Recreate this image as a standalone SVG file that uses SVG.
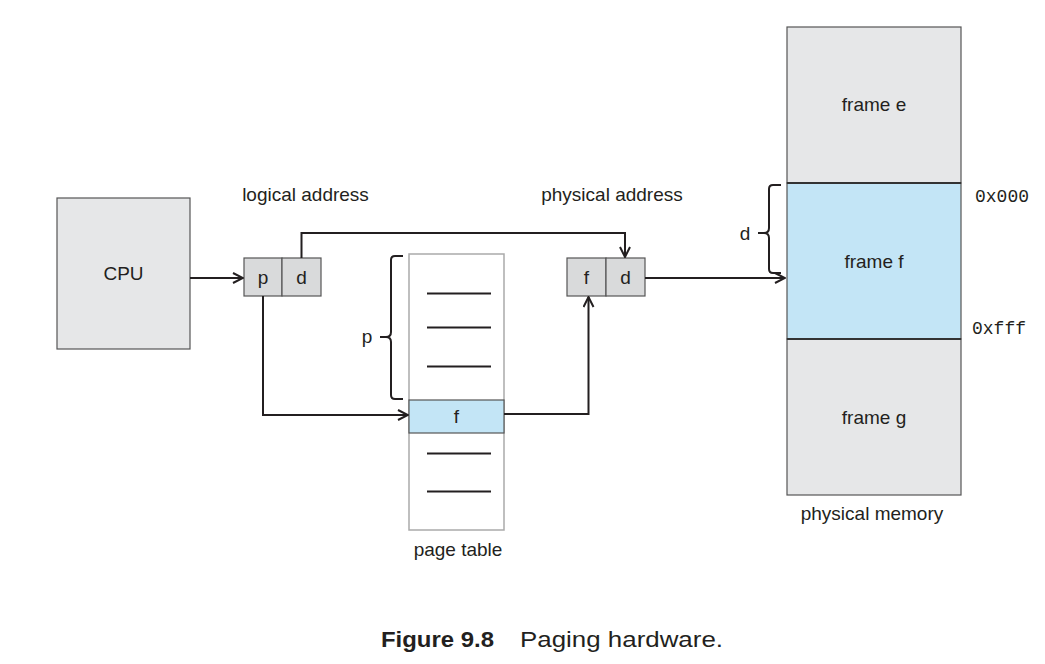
<svg xmlns="http://www.w3.org/2000/svg" width="1045" height="664" viewBox="0 0 1045 664">
<defs>
<marker id="ah" viewBox="0 0 12 12" refX="11" refY="6" markerWidth="12" markerHeight="12" markerUnits="userSpaceOnUse" orient="auto">
<path d="M1,1 L11,6 L1,11" fill="none" stroke="#231f20" stroke-width="2"/>
</marker>
<style>
.t{font-family:"Liberation Sans",Arial,sans-serif;font-size:19px;fill:#231f20}
.m{font-family:"Liberation Mono","Courier New",monospace;font-size:18px;fill:#231f20}
.c{stroke:#231f20;stroke-width:2;fill:none}
.g{fill:#e6e7e8;stroke:#555;stroke-width:1.2}
.g2{fill:#d9dadb;stroke:#555;stroke-width:1.2}
.b{fill:#c3e5f6}
.ln{stroke:#231f20;stroke-width:2}
</style>
</defs>
<rect width="1045" height="664" fill="#fff"/>

<g id="cpu">
<rect class="g" x="57" y="198" width="133" height="151"/>
<text class="t" x="123.5" y="280" text-anchor="middle">CPU</text>
</g>

<g id="logical-address">
<rect class="g2" x="244" y="258" width="38" height="38"/>
<rect class="g2" x="282" y="258" width="39" height="38"/>
<text class="t" x="263" y="284" text-anchor="middle">p</text>
<text class="t" x="301.5" y="284" text-anchor="middle">d</text>
<text class="t" x="305.5" y="201" text-anchor="middle">logical address</text>
</g>

<g id="page-table">
<rect x="409" y="254" width="95" height="276" fill="#fff" stroke="#aaa" stroke-width="1.5"/>
<rect class="b" x="409" y="400" width="95" height="33" stroke="#555" stroke-width="1.2"/>
<text class="t" x="456.5" y="423" text-anchor="middle">f</text>
<line class="ln" x1="427" y1="293.5" x2="491" y2="293.5"/>
<line class="ln" x1="427" y1="327.5" x2="491" y2="327.5"/>
<line class="ln" x1="427" y1="366.5" x2="491" y2="366.5"/>
<line class="ln" x1="427" y1="453.5" x2="491" y2="453.5"/>
<line class="ln" x1="427" y1="491.5" x2="491" y2="491.5"/>
<path class="c" d="M403,256 L395,256 Q391,256 391,260 L391,332 Q391,337 386,337 L380,337 M386,337 Q391,337 391,342 L391,395 Q391,399 395,399 L403,399"/>
<text class="t" x="367" y="343" text-anchor="middle">p</text>
<text class="t" x="458" y="556" text-anchor="middle">page table</text>
</g>

<g id="physical-address">
<rect class="g2" x="567" y="258" width="39" height="38"/>
<rect class="g2" x="606" y="258" width="39" height="38"/>
<text class="t" x="586.5" y="284" text-anchor="middle">f</text>
<text class="t" x="625.5" y="284" text-anchor="middle">d</text>
<text class="t" x="612" y="201" text-anchor="middle">physical address</text>
</g>

<g id="physical-memory">
<rect class="g" x="787" y="27" width="174" height="156"/>
<rect class="b" x="787" y="183" width="174" height="156" stroke="#555" stroke-width="1.2"/>
<rect class="g" x="787" y="339" width="174" height="156"/>
<line x1="787" y1="183" x2="961" y2="183" stroke="#333" stroke-width="2"/>
<line x1="787" y1="339" x2="961" y2="339" stroke="#333" stroke-width="2"/>
<text class="t" x="874" y="111" text-anchor="middle">frame e</text>
<text class="t" x="874" y="268" text-anchor="middle">frame f</text>
<text class="t" x="874" y="424" text-anchor="middle">frame g</text>
<text class="m" x="975" y="202">0x000</text>
<text class="m" x="972" y="334">0xfff</text>
<path class="c" d="M781,185 L773,185 Q769,185 769,189 L769,228 Q769,233 764,233 L758,233 M764,233 Q769,233 769,238 L769,269 Q769,273 773,273 L781,273"/>
<text class="t" x="745" y="240" text-anchor="middle">d</text>
<text class="t" x="872" y="520" text-anchor="middle">physical memory</text>
</g>

<g id="connectors">
<line class="c" x1="190" y1="278" x2="243" y2="278" marker-end="url(#ah)"/>
<polyline class="c" points="301.5,258 301.5,233 625,233 625,257" marker-end="url(#ah)"/>
<polyline class="c" points="263,296 263,415 408,415" marker-end="url(#ah)"/>
<polyline class="c" points="504,414 588.5,414 588.5,297" marker-end="url(#ah)"/>
<line class="c" x1="645" y1="278" x2="785" y2="278" marker-end="url(#ah)"/>
</g>

<g id="caption">
<text x="381" y="647" font-family="Liberation Sans,Arial,sans-serif" font-size="22" font-weight="bold" fill="#231f20" textLength="113" lengthAdjust="spacingAndGlyphs">Figure 9.8</text>
<text x="520" y="647" font-family="Liberation Sans,Arial,sans-serif" font-size="22" fill="#231f20" textLength="203" lengthAdjust="spacingAndGlyphs">Paging hardware.</text>
</g>
</svg>
